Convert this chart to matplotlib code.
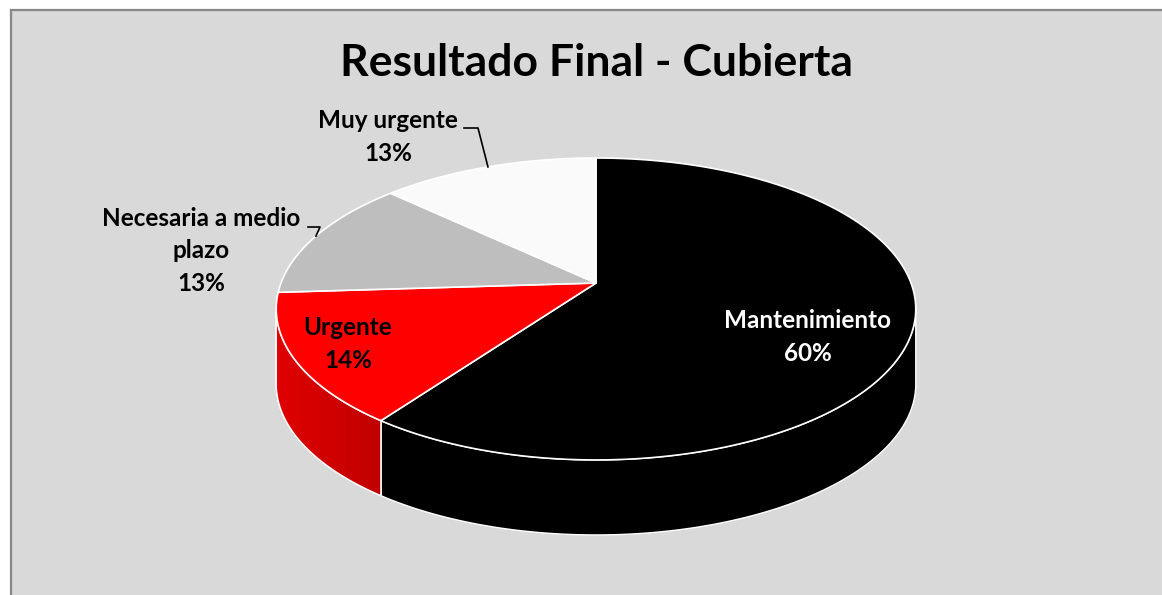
import numpy as np
import matplotlib.pyplot as plt
from matplotlib.patches import Polygon, Rectangle
from matplotlib.colors import LinearSegmentedColormap

# ---- data ----
labels = ["Mantenimiento", "Urgente", "Necesaria a medio\nplazo", "Muy urgente"]
values = [60, 14, 13, 13]
colors = ["#000000", "#FF0000", "#BEBEBE", "#FAFAFA"]
side_colors = ["#000000", "#C80000", "#8F8F8F", "#BBBBBB"]
label_colors = ["white", "black", "black", "black"]
title = "Resultado Final - Cubierta"

FONT = ["Lato", "DejaVu Sans"]

fig = plt.figure(figsize=(11.62, 5.95), dpi=100, facecolor="white")
ax = fig.add_axes([0, 0, 1, 1])
ax.set_xlim(0, 1162)
ax.set_ylim(595, 0)
ax.axis("off")

# chart area
ax.add_patch(Rectangle((11, 10), 1162, 600, facecolor="#D9D9D9",
                       edgecolor="#878787", lw=1.6, zorder=0))

# perspective projection of the pie disk
CX, CY, A, B, K, D = 596, 283, 315, 146.5, 0.172, 75


def proj(theta_deg, r=1.0, drop=0.0):
    t = np.radians(theta_deg)
    u = r * np.sin(t)
    v = r * np.cos(t)
    w = 1 + K * v
    return CX + A * u / w, CY - B * v / w + drop


total = float(sum(values))
bounds = np.concatenate([[0], np.cumsum(values) / total * 360.0])

vis_lo = np.degrees(np.arccos(-K))
vis_hi = 360 - vis_lo

# side walls
for i in range(len(values)):
    a0, a1 = max(bounds[i], vis_lo), min(bounds[i + 1], vis_hi)
    if a1 <= a0:
        continue
    th = np.linspace(a0, a1, 200)
    tx, ty = proj(th)
    bx, by = proj(th[::-1], drop=D)
    pts = np.column_stack([np.concatenate([tx, bx]), np.concatenate([ty, by])])
    poly = Polygon(pts, closed=True, facecolor=side_colors[i],
                   edgecolor="white", lw=1.0, zorder=2)
    ax.add_patch(poly)
    if colors[i] == "#FF0000":
        cmap = LinearSegmentedColormap.from_list("r", ["#E00000", "#C00000"])
        grad = np.linspace(0, 1, 256).reshape(1, -1)
        im = ax.imshow(grad, cmap=cmap, aspect="auto",
                       extent=(pts[:, 0].min(), pts[:, 0].max(),
                               pts[:, 1].max(), pts[:, 1].min()), zorder=2.1)
        im.set_clip_path(poly)
        ax.add_patch(Polygon(pts, closed=True, facecolor="none",
                             edgecolor="white", lw=1.0, zorder=2.2))

# top faces
for i in range(len(values)):
    th = np.linspace(bounds[i], bounds[i + 1], 300)
    x, y = proj(th)
    pts = np.column_stack([np.concatenate([[CX], x]), np.concatenate([[CY], y])])
    ax.add_patch(Polygon(pts, closed=True, facecolor=colors[i],
                         edgecolor="white", lw=1.2, zorder=3))

# title
ax.text(596, 63, title, ha="center", va="center", fontsize=32,
        fontweight="bold", family=FONT, color="black", zorder=5)

# data labels
label_pos = [(808, 337), (348, 344), (201, 251), (388, 137)]
for i, (lab, val) in enumerate(zip(labels, values)):
    txt = f"{lab}\n{val / total * 100:.0f}%"
    ax.text(label_pos[i][0], label_pos[i][1], txt, ha="center", va="center",
            fontsize=17.5, fontweight="bold", family=FONT,
            color=label_colors[i], linespacing=1.5, zorder=5)

# leader lines
elbows = {3: [(464, 128), (478, 128)], 2: [(308, 227), (320, 227)]}
for i, pts in elbows.items():
    mid = (bounds[i] + bounds[i + 1]) / 2
    ex, ey = proj(mid)
    xs = [p[0] for p in pts] + [ex]
    ys = [p[1] for p in pts] + [ey]
    ax.plot(xs, ys, color="black", lw=1.2, zorder=4)

fig.savefig("out.png", dpi=100, facecolor="white")
